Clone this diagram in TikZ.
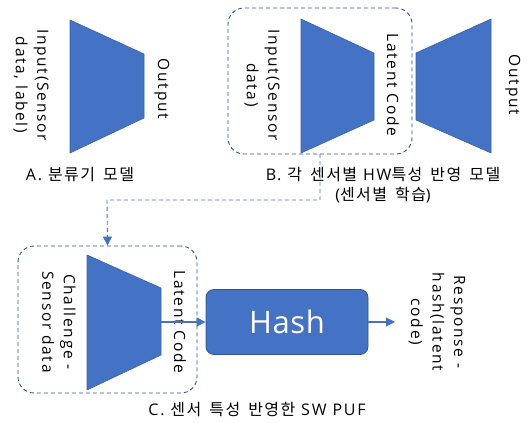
\documentclass[tikz,border=0pt]{standalone}
\usepackage{fontspec}
\setmainfont{Open Sans}[LetterSpace=11]
\newfontfamily\kr{Noto Sans CJK KR}[LetterSpace=9,WordSpace=1.6]
\usetikzlibrary{arrows.meta}
\definecolor{obl}{HTML}{4472C4}
\definecolor{dbl}{HTML}{2F5597}
\begin{document}
\begin{tikzpicture}[x=1pt,y=-1pt,
  trap/.style={fill=obl,draw=obl!85!black,line width=0.6pt},
  grp/.style={draw=dbl,dashed,dash pattern=on 4pt off 3pt,line width=0.9pt,rounded corners=16pt},
  rlab/.style={rotate=-90,align=center,font=\fontsize{15.5}{21.5}\selectfont,inner sep=0pt},
  captxt/.style={align=center,font=\fontsize{16}{20}\selectfont,inner sep=0pt},
  flow/.style={draw=obl,line width=1.1pt,-{Triangle[length=9pt,width=9pt]}},
  link/.style={draw=obl,dashed,dash pattern=on 4pt off 3pt,line width=0.9pt,-{Triangle[length=9pt,width=9pt]}},
  hashbox/.style={fill=obl,draw=dbl,line width=0.8pt,rounded corners=8pt,text=white,font=\fontsize{31}{36}\selectfont\addfontfeature{LetterSpace=2},minimum width=162pt,minimum height=65pt}]
\useasboundingbox (0,0) rectangle (531,423);
% A
\draw[trap] (70,20) -- (144,54) -- (144,118) -- (70,153) -- cycle;
\node[rlab] (ainp) at (31,85) {Input(Sensor\\data, label)};
\node[rlab] (aout) at (162,89) {Output};
\node[captxt] (acap) at (80,175) {A. {\kr 분류기 모델}};
% B
\node[grp,minimum width=184pt,minimum height=146pt] (bgrp) at (320,81) {};
\draw[trap] (301,19) -- (374,53) -- (374,120) -- (301,153) -- cycle;
\draw[trap] (416,53) -- (491,19) -- (491,153) -- (416,120) -- cycle;
\node[rlab] (binp) at (262,85) {Input(Sensor\\data)};
\node[rlab] (blat) at (393,85) {Latent Code};
\node[rlab] (bout) at (513,85) {Output};
\node[captxt] (bcap) at (383,185) {B. {\kr 각 센서별} HW{\kr 특성 반영 모델}\\({\kr 센서별 학습})};
% C
\node[grp,minimum width=179pt,minimum height=147pt] (cgrp) at (107.5,319.5) {};
\draw[trap] (87,255) -- (161,288) -- (161,355) -- (87,390) -- cycle;
\coordinate (cenc) at (161,322);
\node[rlab] (cinp) at (59,322) {Challenge -\\Sensor data};
\node[rlab] (clat) at (180,322) {Latent Code};
\node[hashbox] (hash) at (287,322) {Hash};
\node[rlab] (cres) at (437,322) {Response -\\hash(latent\\code)};
\coordinate (rend) at (395,322);
\node[captxt] (ccap) at (257,410) {C. {\kr 센서 특성 반영한} SW PUF};
% connectors
\coordinate (bsrc) at (320,154);
\draw[link] (bsrc) |- (107,200) -- (cgrp.north);
\draw[flow] (cenc) -- (hash.west);
\draw[flow] (hash.east) -- (rend);
\end{tikzpicture}
\end{document}
